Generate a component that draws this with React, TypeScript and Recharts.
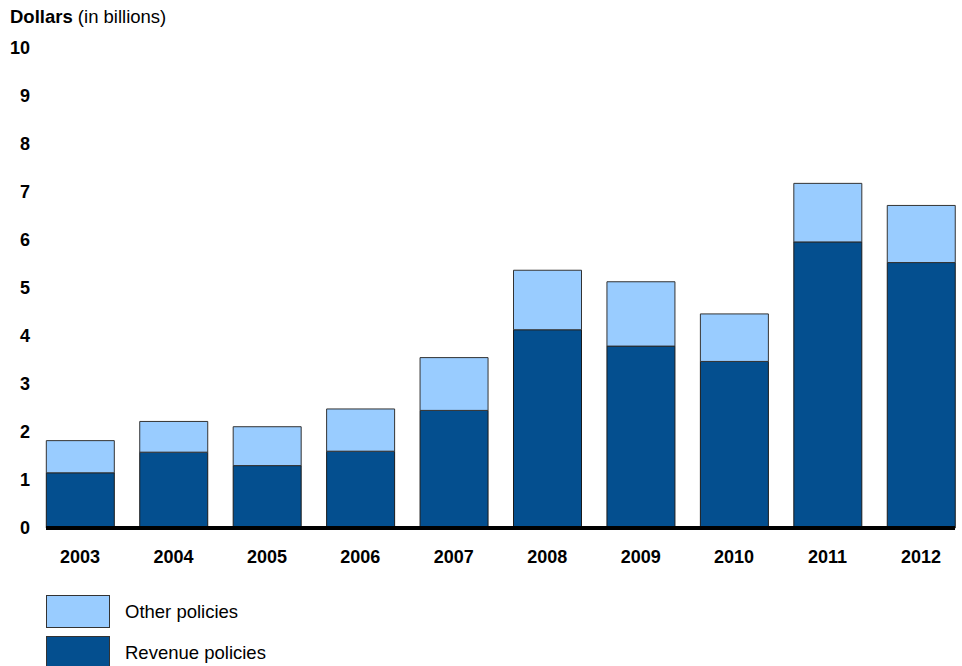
import React from 'react';
import { BarChart, Bar, XAxis, YAxis } from 'recharts';

const years = ['2003', '2004', '2005', '2006', '2007', '2008', '2009', '2010', '2011', '2012'];
const revenuePolicies = [1.15, 1.58, 1.3, 1.6, 2.45, 4.13, 3.79, 3.47, 5.96, 5.53];
const otherPolicies = [0.67, 0.64, 0.81, 0.88, 1.1, 1.24, 1.34, 0.99, 1.22, 1.19];
const yTicks = [0, 1, 2, 3, 4, 5, 6, 7, 8, 9, 10];

const seriesInfo = [
  { key: 'other', name: 'Other policies', color: '#99ccff' },
  { key: 'revenue', name: 'Revenue policies', color: '#044f8f' },
];

const data = years.map((y, i) => ({ year: y, revenue: revenuePolicies[i], other: otherPolicies[i] }));

const FONT = 'Arial, "Liberation Sans", Helvetica, sans-serif';

const LegendBlock = () => (
  <div style={{ position: 'absolute', left: 46, top: 595, fontFamily: FONT }}>
    {seriesInfo.map((s) => (
      <div key={s.key} style={{ display: 'flex', alignItems: 'center', height: 33, marginBottom: 8 }}>
        <div style={{ width: 62, height: 31, background: s.color, border: '1px solid #333' }} />
        <span style={{ marginLeft: 15, fontSize: 18.5, color: '#000' }}>{s.name}</span>
      </div>
    ))}
  </div>
);

export default function App() {
  return (
    <div style={{ position: 'absolute', left: 0, top: 0, width: 962, height: 666, background: '#fff', overflow: 'hidden' }}>
      <div style={{ position: 'absolute', left: 10, top: 6, fontFamily: FONT, fontSize: 18.5, color: '#000', whiteSpace: 'nowrap' }}>
        <b>Dollars</b> (in billions)
      </div>
      <BarChart
        width={962}
        height={666}
        data={data}
        margin={{ top: 48, right: 7, left: 10, bottom: 98 }}
        barSize={68}
      >
        <XAxis
          dataKey="year"
          height={40}
          padding={{ left: -12.7, right: -12.7 }}
          axisLine={{ stroke: '#000', strokeWidth: 4 }}
          tickLine={false}
          tickSize={0}
          tickMargin={22}
          tick={{ fontFamily: FONT, fontSize: 18, fontWeight: 'bold', fill: '#000' }}
        />
        <YAxis
          width={36}
          domain={[0, 10]}
          ticks={yTicks}
          interval={0}
          axisLine={false}
          tickLine={false}
          tickSize={0}
          tickMargin={16}
          tick={{ fontFamily: FONT, fontSize: 18, fontWeight: 'bold', fill: '#000' }}
        />
        <Bar dataKey="revenue" name="Revenue policies" stackId="a" fill="#044f8f" stroke="#1a1a1a" strokeWidth={1} isAnimationActive={false} />
        <Bar dataKey="other" name="Other policies" stackId="a" fill="#99ccff" stroke="#333" strokeWidth={1} isAnimationActive={false} />
      </BarChart>
      <LegendBlock />
    </div>
  );
}
